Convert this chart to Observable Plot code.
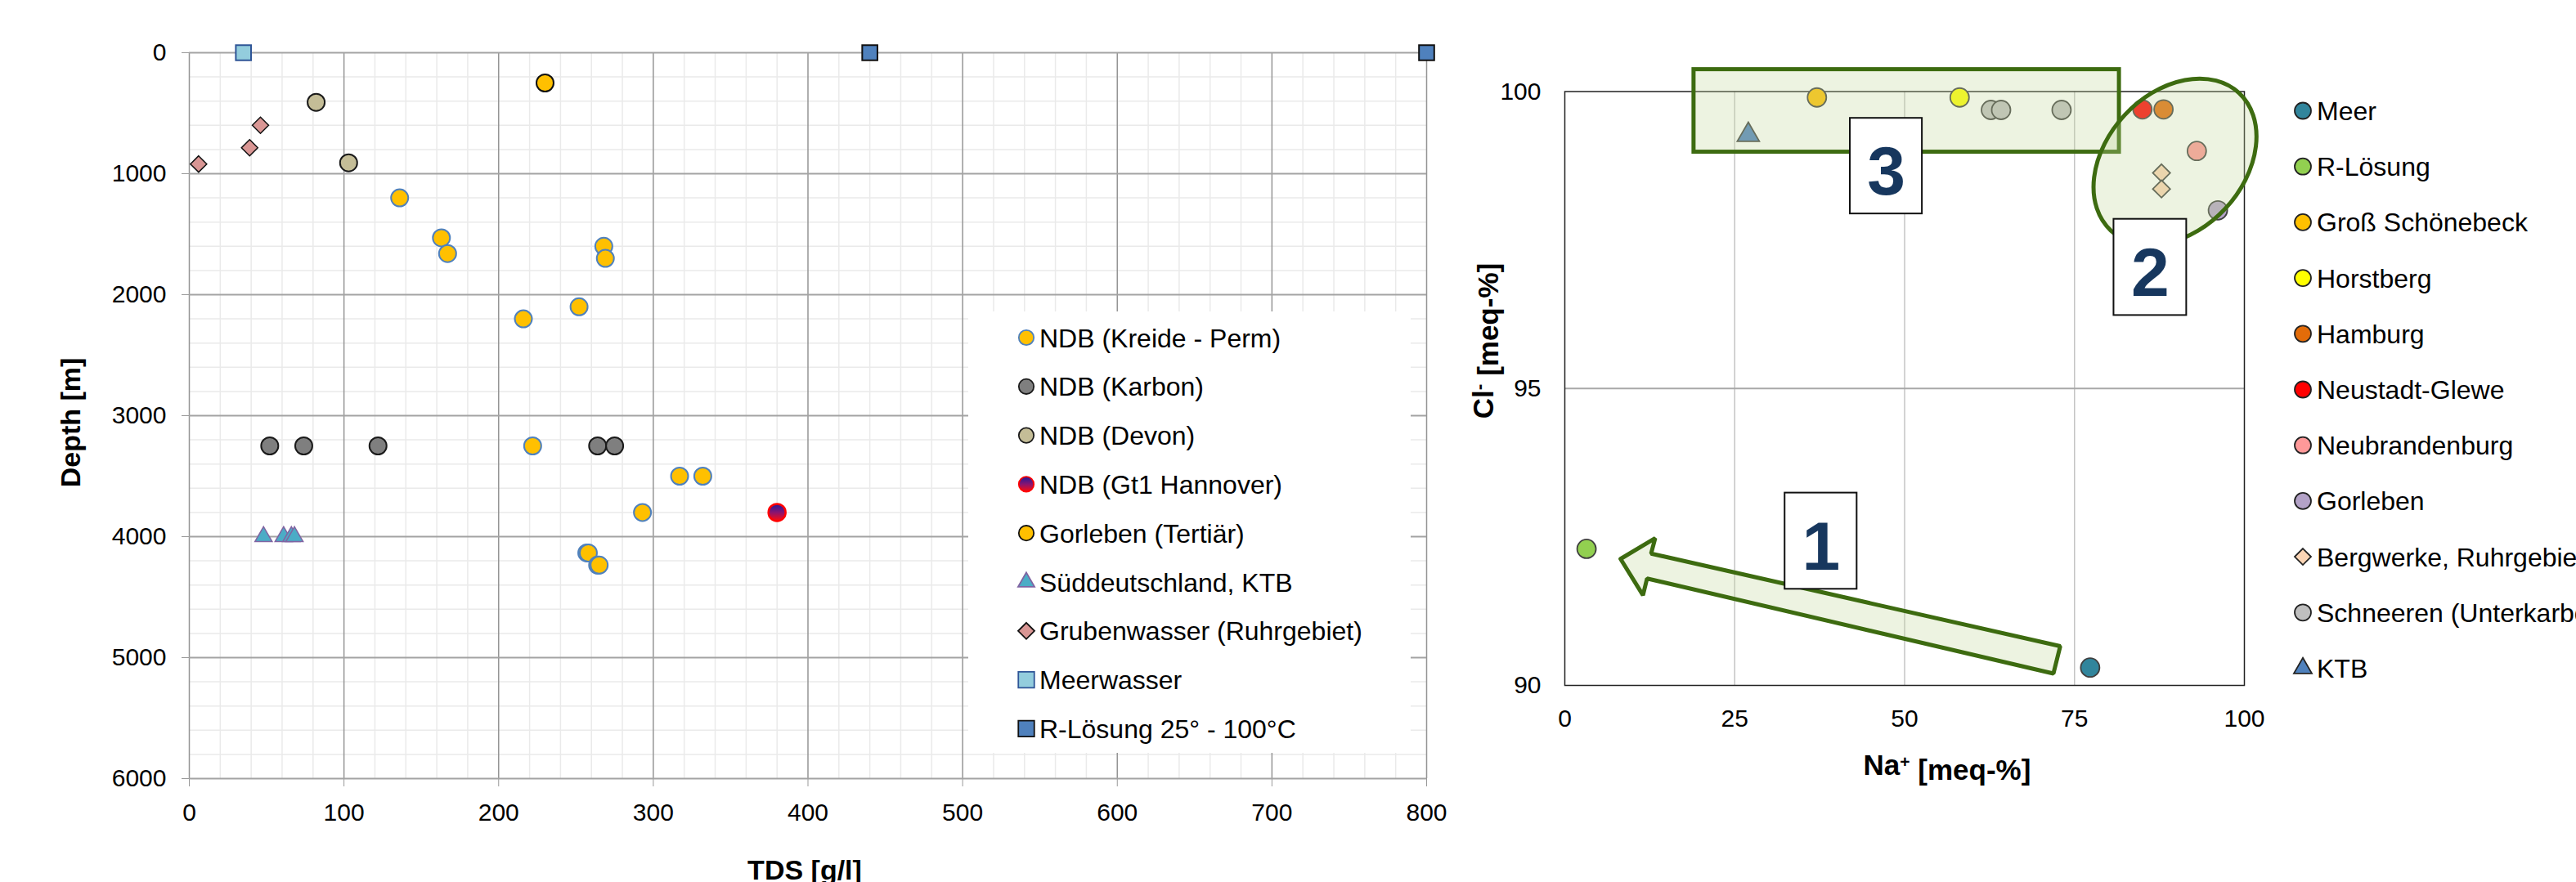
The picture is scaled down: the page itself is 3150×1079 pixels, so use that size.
<!DOCTYPE html>
<html lang="de">
<head>
<meta charset="utf-8">
<title>TDS – Tiefe und Na/Cl</title>
<script src="https://cdn.jsdelivr.net/npm/d3@7"></script>
<script src="https://cdn.jsdelivr.net/npm/@observablehq/plot@0.6"></script>
<style>
html,body{margin:0;padding:0;background:#fff}
body{width:3150px;height:1079px;overflow:hidden;position:relative;font-family:"Liberation Sans",Arial,sans-serif}
#left,#right,#overlay{position:absolute;top:0}
#left{left:0}
#right{left:1750px}
#overlay{left:0}
#left svg,#right svg{max-width:none;overflow:visible;display:block}
g[aria-label^="x-axis"] text, g[aria-label^="y-axis"] text{fill:#000}
</style>
</head>
<body>
<div id="left"></div>
<div id="right"></div>
<svg id="overlay" width="3150" height="1079"></svg>
<script>
// ---------------- DATA: left chart (TDS vs depth) ----------------
const tdsTicks = [0, 100, 200, 300, 400, 500, 600, 700, 800];
const depthTicks = [0, 1000, 2000, 3000, 4000, 5000, 6000];
const tdsLegend = ["NDB (Kreide - Perm)", "NDB (Karbon)", "NDB (Devon)", "NDB (Gt1 Hannover)",
  "Gorleben (Tertiär)", "Süddeutschland, KTB", "Grubenwasser (Ruhrgebiet)", "Meerwasser", "R-Lösung 25° - 100°C"];
const kreideTDS   = [136, 163, 167, 268, 269, 216, 252, 222, 317, 332, 293, 257, 258, 264, 265];
const kreideDepth = [1200, 1530, 1660, 1600, 1700, 2200, 2100, 3250, 3500, 3500, 3800, 4135, 4135, 4235, 4235];
const karbonTDS   = [52, 74, 122, 264, 275];
const karbonDepth = [3250, 3250, 3250, 3250, 3250];
const devonTDS    = [82, 103];
const devonDepth  = [410, 910];
const gt1TDS      = [380];
const gt1Depth    = [3800];
const tertiaerTDS = [230];
const tertiaerDepth = [250];
const ktbTDS      = [48, 61, 66, 68];
const ktbDepth    = [4000, 4000, 4000, 4000];
const grubeTDS    = [46, 39, 6];
const grubeDepth  = [600, 785, 920];
const meerTDS     = [35];
const meerDepth   = [0];
const rloesTDS    = [440, 800];
const rloesDepth  = [0, 0];

// ---------------- DATA: right chart (Na+ vs Cl-) ----------------
const naTicks = [0, 25, 50, 75, 100];
const clTicks = [90, 95, 100];
const naLegend = ["Meer", "R-Lösung", "Groß Schönebeck", "Horstberg", "Hamburg", "Neustadt-Glewe",
  "Neubrandenburg", "Gorleben", "Bergwerke, Ruhrgebiet", "Schneeren (Unterkarbon)", "KTB"];
const meerNa = [77.3], meerCl = [90.3];
const rNa = [3.2], rCl = [92.3];
const grossNa = [37.1], grossCl = [99.9];
const horstNa = [58.1], horstCl = [99.9];
const hamburgNa = [88.1], hamburgCl = [99.7];
const neustadtNa = [85.0], neustadtCl = [99.7];
const neubrNa = [93.0], neubrCl = [99.0];
const gorlebenNa = [96.1], gorlebenCl = [98.0];
const bergNa = [87.8, 87.8], bergCl = [98.63, 98.36];
const schneerenNa = [62.7, 64.2, 73.1], schneerenCl = [99.69, 99.69, 99.69];
const ktbNa = [27.0], ktbCl = [99.27];

// annotations (data units)
const groupLabels = ["1", "2", "3"];
const labelNa1 = [32.4, 80.8, 42.0];
const labelNa2 = [43.0, 91.5, 52.6];
const labelCl1 = [91.62, 96.23, 97.94];
const labelCl2 = [93.24, 97.85, 99.55];
const box3Na = [19.0, 81.6];
const box3Cl = [98.98, 100.37];
const arrowNa = [8.2, 13.3, 12.7, 72.9, 71.9, 12.1, 11.5, 8.2];
const arrowCl = [92.13, 92.48, 92.22, 90.66, 90.20, 91.80, 91.52, 92.13];
const ellipseNa = 89.85, ellipseCl = 98.81;

// ---------------- styles ----------------
const FONT = "Liberation Sans, Arial, sans-serif";
const leftStyle = {
  "NDB (Kreide - Perm)": {symbol: "circle", fill: "#ffc000", stroke: "#4f81bd", r: 10.5, sw: 2},
  "NDB (Karbon)": {symbol: "circle", fill: "#7f7f7f", stroke: "#1a1a1a", r: 10.5, sw: 2},
  "NDB (Devon)": {symbol: "circle", fill: "#c4bd97", stroke: "#1a1a1a", r: 10.5, sw: 2},
  "NDB (Gt1 Hannover)": {symbol: "circle", fill: "url(#gt1grad)", stroke: "#ff0000", r: 10.5, sw: 2.5},
  "Gorleben (Tertiär)": {symbol: "circle", fill: "#ffc000", stroke: "#111", r: 10.5, sw: 2},
  "Süddeutschland, KTB": {symbol: "triangle", fill: "#4bacc6", stroke: "#8064a2", r: 7.8, sw: 1.5},
  "Grubenwasser (Ruhrgebiet)": {symbol: "diamond2", fill: "#d99694", stroke: "#111", r: 9, sw: 1.5},
  "Meerwasser": {symbol: "square", fill: "#93cddd", stroke: "#2f5597", r: 10.5, sw: 2},
  "R-Lösung 25° - 100°C": {symbol: "square", fill: "#4f81bd", stroke: "#111", r: 10.5, sw: 2}
};
const rightStyle = {
  "Meer": {symbol: "circle", fill: "#31859c"},
  "R-Lösung": {symbol: "circle", fill: "#92d050"},
  "Groß Schönebeck": {symbol: "circle", fill: "#ffc000"},
  "Horstberg": {symbol: "circle", fill: "#ffff00"},
  "Hamburg": {symbol: "circle", fill: "#e36c09"},
  "Neustadt-Glewe": {symbol: "circle", fill: "#ff0000"},
  "Neubrandenburg": {symbol: "circle", fill: "#ff9999"},
  "Gorleben": {symbol: "circle", fill: "#b3a2c7"},
  "Bergwerke, Ruhrgebiet": {symbol: "diamond2", fill: "#fcd5b5"},
  "Schneeren (Unterkarbon)": {symbol: "circle", fill: "#bfbfbf"},
  "KTB": {symbol: "triangle", fill: "#4f81bd"}
};

// ---------------- tables ----------------
const leftPairs = [[kreideTDS, kreideDepth], [karbonTDS, karbonDepth], [devonTDS, devonDepth], [gt1TDS, gt1Depth],
  [tertiaerTDS, tertiaerDepth], [ktbTDS, ktbDepth], [grubeTDS, grubeDepth], [meerTDS, meerDepth], [rloesTDS, rloesDepth]];
const leftRows = tdsLegend.map((name, i) => leftPairs[i][0].map((v, j) => ({series: name, tds: v, depth: leftPairs[i][1][j]})));

const rightPairs = [[meerNa, meerCl], [rNa, rCl], [grossNa, grossCl], [horstNa, horstCl], [hamburgNa, hamburgCl],
  [neustadtNa, neustadtCl], [neubrNa, neubrCl], [gorlebenNa, gorlebenCl], [bergNa, bergCl], [schneerenNa, schneerenCl], [ktbNa, ktbCl]];
const rightRows = naLegend.map((name, i) => rightPairs[i][0].map((v, j) => ({series: name, na: v, cl: rightPairs[i][1][j]})));
// draw order on the right chart
const rightOrder = [0, 1, 9, 2, 3, 10, 5, 4, 6, 8, 7];

const minorX = d3.range(0, 801, 20).filter(v => v % 100 !== 0);
const minorY = d3.range(0, 6001, 200).filter(v => v % 1000 !== 0);

// ---------------- left chart ----------------
const leftMarks = [
  Plot.ruleX(minorX, {stroke: "#eaeaea", strokeWidth: 1.5}),
  Plot.ruleY(minorY, {stroke: "#eaeaea", strokeWidth: 1.5}),
  Plot.ruleX(tdsTicks, {stroke: "#959595", strokeWidth: 1.5}),
  Plot.ruleY(depthTicks, {stroke: "#a3a3a3", strokeWidth: 2})
];
tdsLegend.forEach((name, i) => {
  const s = leftStyle[name];
  leftMarks.push(Plot.dot(leftRows[i], {x: "tds", y: "depth", r: s.r, symbol: s.symbol, fill: s.fill, stroke: s.stroke, strokeWidth: s.sw}));
});
const leftChart = Plot.plot({
  width: 1760, height: 1079,
  marginLeft: 231, marginRight: 16, marginTop: 64, marginBottom: 127,
  style: {background: "transparent", color: "#999", fontFamily: FONT, fontSize: "30px", overflow: "visible"},
  x: {domain: [0, 800], ticks: tdsTicks, tickSize: 10, tickPadding: 20, tickFormat: d3.format("d"), label: null},
  y: {domain: [0, 6000], reverse: true, ticks: depthTicks, tickSize: 9, tickPadding: 19, tickFormat: d3.format("d"), label: null},
  marks: leftMarks
});
document.getElementById("left").appendChild(leftChart);

// ---------------- right chart ----------------
const NS = "http://www.w3.org/2000/svg";
const GREEN = "#3d6b10";
const TINT = "#c3d69b";
const ellipseMark = (index, scales) => {
  const cx = scales.x(ellipseNa), cy = scales.y(ellipseCl);
  const el = document.createElementNS(NS, "ellipse");
  el.setAttribute("cx", cx); el.setAttribute("cy", cy);
  el.setAttribute("rx", 84); el.setAttribute("ry", 115);
  el.setAttribute("transform", `rotate(43 ${cx} ${cy})`);
  el.setAttribute("fill", TINT); el.setAttribute("fill-opacity", 0.3);
  el.setAttribute("stroke", GREEN); el.setAttribute("stroke-width", 5);
  return el;
};
const labelRows = groupLabels.map((t, i) => ({label: t, x1: labelNa1[i], x2: labelNa2[i], y1: labelCl1[i], y2: labelCl2[i]}));
const arrowRows = arrowNa.map((v, i) => ({na: v, cl: arrowCl[i]}));
const rightMarks = [
  Plot.ruleX([25, 50, 75], {stroke: "#c4c4c4", strokeWidth: 1.5}),
  Plot.ruleY([95], {stroke: "#a8a8a8", strokeWidth: 2}),
  Plot.frame({stroke: "#222", strokeWidth: 1.5})
];
rightOrder.forEach(i => {
  const name = naLegend[i], s = rightStyle[name];
  const r = s.symbol === "circle" ? 11.5 : s.symbol === "triangle" ? 10 : 9.6;
  rightMarks.push(Plot.dot(rightRows[i], {x: "na", y: "cl", r, symbol: s.symbol, fill: s.fill, stroke: "#404040", strokeWidth: 1.8}));
});
rightMarks.push(
  Plot.rect([{x1: box3Na[0], x2: box3Na[1], y1: box3Cl[0], y2: box3Cl[1]}], {x1: "x1", x2: "x2", y1: "y1", y2: "y2", fill: TINT, fillOpacity: 0.3, stroke: GREEN, strokeWidth: 5}),
  ellipseMark,
  Plot.line(arrowRows, {x: "na", y: "cl", fill: TINT, fillOpacity: 0.3, stroke: GREEN, strokeWidth: 5, strokeLinejoin: "miter", curve: "linear"}),
  Plot.rect(labelRows, {x1: "x1", x2: "x2", y1: "y1", y2: "y2", fill: "white", stroke: "#111", strokeWidth: 2}),
  Plot.text(labelRows, {x: d => (d.x1 + d.x2) / 2, y: d => (d.y1 + d.y2) / 2, text: "label", fontSize: 84, fontWeight: "bold", fill: "#17375e", dy: 8, fontFamily: FONT})
);
const rightChart = Plot.plot({
  width: 1400, height: 1079,
  marginLeft: 163, marginRight: 406, marginTop: 111.5, marginBottom: 241,
  style: {background: "transparent", color: "#000", fontFamily: FONT, fontSize: "30px", overflow: "visible"},
  x: {domain: [0, 100], ticks: naTicks, tickSize: 0, tickPadding: 29, tickFormat: d3.format("d"), label: null},
  y: {domain: [90, 100], ticks: clTicks, tickSize: 0, tickPadding: 29, tickFormat: d3.format("d"), label: null},
  marks: rightMarks
});
document.getElementById("right").appendChild(rightChart);

// ---------------- overlay: titles and legends ----------------
const ov = d3.select("#overlay").style("font-family", FONT);
const defs = ov.append("defs");
const g = defs.append("linearGradient").attr("id", "gt1grad").attr("x1", 0).attr("y1", 0).attr("x2", 0).attr("y2", 1);
g.append("stop").attr("offset", "0%").attr("stop-color", "#1f1a9a");
g.append("stop").attr("offset", "50%").attr("stop-color", "#8a1470");
g.append("stop").attr("offset", "100%").attr("stop-color", "#ff0a0a");

const symArea = {circle: r => Math.PI * r * r, triangle: () => 175, diamond2: () => 255, square: () => 380};
const symType = {circle: d3.symbolCircle, triangle: d3.symbolTriangle, diamond2: d3.symbolDiamond2, square: d3.symbolSquare};

// left legend
ov.append("rect").attr("x", 1184).attr("y", 381).attr("width", 541).attr("height", 540).attr("fill", "#fff");
tdsLegend.forEach((name, i) => {
  const s = leftStyle[name];
  const y = 413 + i * 59.8;
  ov.append("path").attr("transform", `translate(1255,${y})`)
    .attr("d", d3.symbol(symType[s.symbol], symArea[s.symbol](9.2))())
    .attr("fill", s.fill).attr("stroke", s.stroke).attr("stroke-width", 1.8);
  ov.append("text").attr("x", 1271).attr("y", y).attr("dy", "0.36em").attr("font-size", 32).attr("fill", "#000").text(name);
});

// right legend
naLegend.forEach((name, i) => {
  const s = rightStyle[name];
  const y = 135.5 + i * 68.2;
  ov.append("path").attr("transform", `translate(2816,${y})`)
    .attr("d", d3.symbol(symType[s.symbol], s.symbol === "circle" ? Math.PI * 100 : s.symbol === "triangle" ? 210 : 255)())
    .attr("fill", s.fill).attr("stroke", "#222").attr("stroke-width", 1.8);
  ov.append("text").attr("x", 2833).attr("y", y).attr("dy", "0.36em").attr("font-size", 32).attr("fill", "#000").text(name);
});

// axis titles
ov.append("text").attr("transform", "translate(98,517) rotate(-90)").attr("text-anchor", "middle")
  .attr("font-size", 34).attr("font-weight", "bold").text("Depth [m]");
ov.append("text").attr("x", 984).attr("y", 1076).attr("text-anchor", "middle")
  .attr("font-size", 34).attr("font-weight", "bold").text("TDS [g/l]");
const cl = ov.append("text").attr("transform", "translate(1826,417) rotate(-90)").attr("text-anchor", "middle")
  .attr("font-size", 35).attr("font-weight", "bold");
cl.append("tspan").text("Cl");
cl.append("tspan").attr("dy", "-0.45em").attr("font-size", "0.65em").text("-");
cl.append("tspan").attr("dy", "0.45em").text(" [meq-%]");
const na = ov.append("text").attr("x", 2381).attr("y", 948).attr("text-anchor", "middle")
  .attr("font-size", 35).attr("font-weight", "bold");
na.append("tspan").text("Na");
na.append("tspan").attr("dy", "-0.45em").attr("font-size", "0.6em").text("+");
na.append("tspan").attr("dy", "0.45em").text(" [meq-%]");
</script>
</body>
</html>
